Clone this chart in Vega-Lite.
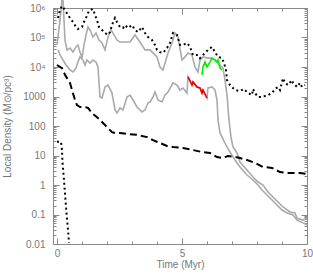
{
  "$schema": "https://vega.github.io/schema/vega-lite/v6.json",
  "width": 254,
  "height": 236,
  "autosize": {"type": "none"},
  "padding": {"left": 53, "top": 8, "right": 6, "bottom": 33},
  "config": {
    "view": {"stroke": null},
    "axis": {
      "domainColor": "#888",
      "tickColor": "#888",
      "labelColor": "#777",
      "titleColor": "#777",
      "labelFont": "Liberation Sans",
      "titleFont": "Liberation Sans",
      "labelFontSize": 10,
      "titleFontSize": 10,
      "titleFontWeight": "normal",
      "grid": false,
      "labelOverlap": false,
      "labelFlush": false,
      "labelBound": false
    }
  },
  "data": {
    "values": [
      {"s":"A","t":0,"v":56000},{"s":"A","t":0.12,"v":390000},{"s":"A","t":0.2,"v":1870000},{"s":"A","t":0.24,"v":1870000},{"s":"A","t":0.32,"v":82000},{"s":"A","t":0.4,"v":38000},{"s":"A","t":0.52,"v":44000},{"s":"A","t":0.64,"v":32000},{"s":"A","t":0.76,"v":48000},{"s":"A","t":0.84,"v":56000},{"s":"A","t":0.92,"v":32000},{"s":"A","t":1.0,"v":20000},{"s":"A","t":1.08,"v":56000},{"s":"A","t":1.16,"v":122000},{"s":"A","t":1.24,"v":227000},{"s":"A","t":1.32,"v":180000},{"s":"A","t":1.44,"v":104000},{"s":"A","t":1.56,"v":142000},{"s":"A","t":1.68,"v":82000},{"s":"A","t":1.8,"v":65000},{"s":"A","t":1.92,"v":38000},{"s":"A","t":2.04,"v":104000},{"s":"A","t":2.16,"v":180000},{"s":"A","t":2.28,"v":122000},{"s":"A","t":2.4,"v":82000},{"s":"A","t":2.52,"v":70000},{"s":"A","t":2.72,"v":70000},{"s":"A","t":2.92,"v":70000},{"s":"A","t":3.12,"v":122000},{"s":"A","t":3.32,"v":70000},{"s":"A","t":3.52,"v":38000},{"s":"A","t":3.72,"v":38000},{"s":"A","t":3.84,"v":30000},{"s":"A","t":4.0,"v":22000},{"s":"A","t":4.12,"v":10000},{"s":"A","t":4.24,"v":7900},{"s":"A","t":4.32,"v":13600},{"s":"A","t":4.44,"v":30000},{"s":"A","t":4.6,"v":65000},{"s":"A","t":4.72,"v":142000},{"s":"A","t":4.84,"v":104000},{"s":"A","t":5.0,"v":17300},{"s":"A","t":5.12,"v":22000},{"s":"A","t":5.24,"v":30000},{"s":"A","t":5.4,"v":25500},{"s":"A","t":5.52,"v":10000},{"s":"A","t":5.64,"v":6800},{"s":"A","t":5.72,"v":17300},{"s":"A","t":5.84,"v":22000},{"s":"A","t":6.04,"v":20000},{"s":"A","t":6.2,"v":20000},{"s":"A","t":6.4,"v":14800},{"s":"A","t":6.52,"v":11700},{"s":"A","t":6.64,"v":9200},{"s":"A","t":6.72,"v":3600},{"s":"A","t":6.8,"v":1120},{"s":"A","t":6.88,"v":160},{"s":"A","t":6.96,"v":42},{"s":"A","t":7.04,"v":19.4},{"s":"A","t":7.2,"v":12.2},{"s":"A","t":7.32,"v":6.0},{"s":"A","t":7.6,"v":3.2},{"s":"A","t":7.84,"v":1.87},{"s":"A","t":8.04,"v":1.26},{"s":"A","t":8.24,"v":1.0},{"s":"A","t":8.44,"v":0.58},{"s":"A","t":8.64,"v":0.39},{"s":"A","t":8.84,"v":0.265},{"s":"A","t":9.04,"v":0.18},{"s":"A","t":9.32,"v":0.122},{"s":"A","t":9.52,"v":0.112},{"s":"A","t":9.6,"v":0.076},{"s":"A","t":9.84,"v":0.065},{"s":"A","t":10.0,"v":0.076},

      {"s":"C","t":0.04,"v":38000},{"s":"C","t":0.12,"v":25500},{"s":"C","t":0.24,"v":17300},{"s":"C","t":0.36,"v":11700},{"s":"C","t":0.52,"v":7900},{"s":"C","t":0.64,"v":6800},{"s":"C","t":0.76,"v":9200},{"s":"C","t":0.84,"v":14800},{"s":"C","t":0.92,"v":22000},{"s":"C","t":1.04,"v":17300},{"s":"C","t":1.12,"v":11700},{"s":"C","t":1.2,"v":17300},{"s":"C","t":1.32,"v":13600},{"s":"C","t":1.44,"v":17300},{"s":"C","t":1.56,"v":14800},{"s":"C","t":1.64,"v":10000},{"s":"C","t":1.72,"v":960},{"s":"C","t":1.8,"v":890},{"s":"C","t":1.92,"v":2100},{"s":"C","t":2.04,"v":2450},{"s":"C","t":2.2,"v":1310},{"s":"C","t":2.32,"v":350},{"s":"C","t":2.4,"v":275},{"s":"C","t":2.52,"v":410},{"s":"C","t":2.64,"v":350},{"s":"C","t":2.8,"v":960},{"s":"C","t":2.92,"v":1120},{"s":"C","t":3.04,"v":760},{"s":"C","t":3.2,"v":440},{"s":"C","t":3.4,"v":300},{"s":"C","t":3.52,"v":350},{"s":"C","t":3.64,"v":600},{"s":"C","t":3.72,"v":650},{"s":"C","t":3.84,"v":960},{"s":"C","t":3.92,"v":1420},{"s":"C","t":4.04,"v":760},{"s":"C","t":4.2,"v":650},{"s":"C","t":4.32,"v":1120},{"s":"C","t":4.44,"v":1420},{"s":"C","t":4.64,"v":2900},{"s":"C","t":4.8,"v":2450},{"s":"C","t":4.92,"v":1660},{"s":"C","t":5.04,"v":1940},{"s":"C","t":5.2,"v":1310},{"s":"C","t":5.24,"v":4600},{"s":"C","t":5.4,"v":2450},{"s":"C","t":5.44,"v":3100},{"s":"C","t":5.6,"v":2100},{"s":"C","t":5.72,"v":1940},{"s":"C","t":5.8,"v":1310},{"s":"C","t":5.84,"v":1660},{"s":"C","t":6.0,"v":890},{"s":"C","t":6.04,"v":1940},{"s":"C","t":6.2,"v":2100},{"s":"C","t":6.32,"v":1660},{"s":"C","t":6.4,"v":760},{"s":"C","t":6.44,"v":160},{"s":"C","t":6.52,"v":58},{"s":"C","t":6.72,"v":26.5},{"s":"C","t":6.92,"v":13.1},{"s":"C","t":7.12,"v":7.0},{"s":"C","t":7.32,"v":4.1},{"s":"C","t":7.6,"v":2.18},{"s":"C","t":7.84,"v":1.48},{"s":"C","t":8.04,"v":1.0},{"s":"C","t":8.2,"v":0.68},{"s":"C","t":8.4,"v":0.46},{"s":"C","t":8.6,"v":0.31},{"s":"C","t":8.8,"v":0.21},{"s":"C","t":9.0,"v":0.142},{"s":"C","t":9.2,"v":0.112},{"s":"C","t":9.44,"v":0.096},{"s":"C","t":9.6,"v":0.065},{"s":"C","t":9.84,"v":0.052},{"s":"C","t":10.0,"v":0.044},

      {"s":"red","t":5.24,"v":4600},{"s":"red","t":5.4,"v":2450},{"s":"red","t":5.44,"v":3100},{"s":"red","t":5.6,"v":2100},{"s":"red","t":5.72,"v":1940},{"s":"red","t":5.8,"v":1310},{"s":"red","t":5.84,"v":1660},{"s":"red","t":6.0,"v":890},

      {"s":"green","t":5.8,"v":5400},{"s":"green","t":5.84,"v":10000},{"s":"green","t":5.92,"v":14800},{"s":"green","t":6.0,"v":10000},{"s":"green","t":6.12,"v":14800},{"s":"green","t":6.2,"v":20000},{"s":"green","t":6.32,"v":17300},{"s":"green","t":6.4,"v":14800},{"s":"green","t":6.44,"v":17300},{"s":"green","t":6.52,"v":9200},{"s":"green","t":6.6,"v":7900},

      {"s":"dot","t":0.04,"v":460000},{"s":"dot","t":0.12,"v":860000},{"s":"dot","t":0.2,"v":1170000},{"s":"dot","t":0.32,"v":860000},{"s":"dot","t":0.44,"v":580000},{"s":"dot","t":0.52,"v":460000},{"s":"dot","t":0.64,"v":335000},{"s":"dot","t":0.76,"v":227000},{"s":"dot","t":0.84,"v":194000},{"s":"dot","t":1.0,"v":227000},{"s":"dot","t":1.08,"v":335000},{"s":"dot","t":1.16,"v":460000},{"s":"dot","t":1.24,"v":680000},{"s":"dot","t":1.32,"v":860000},{"s":"dot","t":1.44,"v":920000},{"s":"dot","t":1.52,"v":580000},{"s":"dot","t":1.6,"v":390000},{"s":"dot","t":1.68,"v":227000},{"s":"dot","t":1.8,"v":180000},{"s":"dot","t":1.92,"v":142000},{"s":"dot","t":2.04,"v":122000},{"s":"dot","t":2.12,"v":153000},{"s":"dot","t":2.2,"v":265000},{"s":"dot","t":2.32,"v":460000},{"s":"dot","t":2.4,"v":335000},{"s":"dot","t":2.52,"v":227000},{"s":"dot","t":2.64,"v":210000},{"s":"dot","t":2.72,"v":265000},{"s":"dot","t":2.84,"v":210000},{"s":"dot","t":3.0,"v":265000},{"s":"dot","t":3.12,"v":180000},{"s":"dot","t":3.24,"v":153000},{"s":"dot","t":3.4,"v":227000},{"s":"dot","t":3.52,"v":142000},{"s":"dot","t":3.64,"v":104000},{"s":"dot","t":3.8,"v":82000},{"s":"dot","t":3.92,"v":56000},{"s":"dot","t":4.0,"v":38000},{"s":"dot","t":4.12,"v":32000},{"s":"dot","t":4.24,"v":30000},{"s":"dot","t":4.4,"v":44000},{"s":"dot","t":4.52,"v":65000},{"s":"dot","t":4.64,"v":142000},{"s":"dot","t":4.8,"v":122000},{"s":"dot","t":4.92,"v":56000},{"s":"dot","t":5.04,"v":56000},{"s":"dot","t":5.2,"v":65000},{"s":"dot","t":5.32,"v":48000},{"s":"dot","t":5.44,"v":25500},{"s":"dot","t":5.64,"v":25500},{"s":"dot","t":5.72,"v":20000},{"s":"dot","t":5.84,"v":25500},{"s":"dot","t":6.04,"v":38000},{"s":"dot","t":6.2,"v":48000},{"s":"dot","t":6.32,"v":32000},{"s":"dot","t":6.44,"v":22000},{"s":"dot","t":6.6,"v":20000},{"s":"dot","t":6.68,"v":13600},{"s":"dot","t":6.76,"v":7900},{"s":"dot","t":6.8,"v":3600},{"s":"dot","t":6.92,"v":2450},{"s":"dot","t":7.12,"v":1660},{"s":"dot","t":7.32,"v":1530},{"s":"dot","t":7.48,"v":1800},{"s":"dot","t":7.64,"v":1310},{"s":"dot","t":7.8,"v":1120},{"s":"dot","t":7.84,"v":1800},{"s":"dot","t":7.92,"v":1310},{"s":"dot","t":8.04,"v":960},{"s":"dot","t":8.2,"v":960},{"s":"dot","t":8.32,"v":1040},{"s":"dot","t":8.44,"v":1120},{"s":"dot","t":8.6,"v":1310},{"s":"dot","t":8.72,"v":1800},{"s":"dot","t":8.84,"v":2100},{"s":"dot","t":8.92,"v":1660},{"s":"dot","t":9.04,"v":4200},{"s":"dot","t":9.12,"v":2900},{"s":"dot","t":9.24,"v":2450},{"s":"dot","t":9.4,"v":3600},{"s":"dot","t":9.44,"v":2900},{"s":"dot","t":9.6,"v":2100},{"s":"dot","t":9.72,"v":2900},{"s":"dot","t":9.8,"v":2100},{"s":"dot","t":9.92,"v":2450},

      {"s":"dash","t":0.0,"v":11700},{"s":"dash","t":0.2,"v":9200},{"s":"dash","t":0.32,"v":5400},{"s":"dash","t":0.52,"v":2900},{"s":"dash","t":0.6,"v":1660},{"s":"dash","t":0.72,"v":760},{"s":"dash","t":0.8,"v":515},{"s":"dash","t":0.92,"v":440},{"s":"dash","t":1.12,"v":440},{"s":"dash","t":1.24,"v":410},{"s":"dash","t":1.4,"v":275},{"s":"dash","t":1.6,"v":200},{"s":"dash","t":1.8,"v":136},{"s":"dash","t":2.0,"v":92},{"s":"dash","t":2.2,"v":62},{"s":"dash","t":2.32,"v":58},{"s":"dash","t":2.52,"v":58},{"s":"dash","t":2.8,"v":54},{"s":"dash","t":3.2,"v":50},{"s":"dash","t":3.6,"v":42},{"s":"dash","t":3.84,"v":33},{"s":"dash","t":4.12,"v":26.5},{"s":"dash","t":4.4,"v":21},{"s":"dash","t":4.64,"v":19.4},{"s":"dash","t":5.04,"v":18},{"s":"dash","t":5.44,"v":15.3},{"s":"dash","t":5.8,"v":13.1},{"s":"dash","t":6.12,"v":12.2},{"s":"dash","t":6.4,"v":8.9},{"s":"dash","t":6.6,"v":8.2},{"s":"dash","t":6.84,"v":9.6},{"s":"dash","t":7.12,"v":8.9},{"s":"dash","t":7.32,"v":8.2},{"s":"dash","t":7.6,"v":7.0},{"s":"dash","t":7.92,"v":5.6},{"s":"dash","t":8.24,"v":4.1},{"s":"dash","t":8.6,"v":3.8},{"s":"dash","t":8.92,"v":2.75},{"s":"dash","t":9.2,"v":2.55},{"s":"dash","t":9.44,"v":2.55},{"s":"dash","t":9.72,"v":2.55},{"s":"dash","t":10.0,"v":2.36},

      {"s":"dot2","t":0.0,"v":29},{"s":"dot2","t":0.16,"v":29},{"s":"dot2","t":0.2,"v":15.3},{"s":"dot2","t":0.22,"v":5.6},{"s":"dot2","t":0.28,"v":1.48},{"s":"dot2","t":0.33,"v":0.39},{"s":"dot2","t":0.38,"v":0.112},{"s":"dot2","t":0.44,"v":0.03},{"s":"dot2","t":0.48,"v":0.0108}
    ]
  },
  "encoding": {
    "x": {"field": "t", "type": "quantitative", "scale": {"domain": [-0.16, 10], "nice": false, "zero": false}},
    "y": {"field": "v", "type": "quantitative", "scale": {"type": "log", "domain": [0.01, 1000000], "nice": false}}
  },
  "resolve": {"axis": {"x": "independent", "y": "independent"}},
  "layer": [
    {
      "transform": [{"filter": "datum.s === 'A'"}],
      "mark": {"type": "line", "color": "#aaaaaa", "strokeWidth": 1.6},
      "encoding": {
        "x": {"field": "t", "type": "quantitative", "scale": {"domain": [-0.16, 10], "nice": false, "zero": false},
          "axis": {"orient": "bottom", "title": "Time (Myr)", "values": [0,1,2,3,4,5,6,7,8,9,10],
            "labelExpr": "datum.value % 5 === 0 ? datum.label : ''",
            "tickSize": {"condition": {"test": "datum.value % 5 === 0", "value": -6}, "value": -3},
            "labelPadding": 10, "titlePadding": -2}},
        "y": {"field": "v", "type": "quantitative", "scale": {"type": "log", "domain": [0.01, 1000000], "nice": false},
          "axis": {"orient": "left", "title": "Local Density (M⊙/pc³)",
            "values": [0.01,0.02,0.03,0.04,0.05,0.06,0.07,0.08,0.09,0.1,0.2,0.3,0.4,0.5,0.6,0.7,0.8,0.9,1,2,3,4,5,6,7,8,9,10,20,30,40,50,60,70,80,90,100,200,300,400,500,600,700,800,900,1000,2000,3000,4000,5000,6000,7000,8000,9000,10000,20000,30000,40000,50000,60000,70000,80000,90000,100000,200000,300000,400000,500000,600000,700000,800000,900000,1000000],
            "labelExpr": "datum.value == 1000000 ? '10⁶' : datum.value == 100000 ? '10⁵' : datum.value == 10000 ? '10⁴' : datum.value == 1000 ? '1000' : datum.value == 100 ? '100' : datum.value == 10 ? '10' : datum.value == 1 ? '1' : datum.value == 0.1 ? '0.1' : datum.value == 0.01 ? '0.01' : ''",
            "tickSize": {"condition": {"test": "indexof([0.01,0.1,1,10,100,1000,10000,100000,1000000], datum.value) >= 0", "value": -6}, "value": -3},
            "labelPadding": 14, "titlePadding": 10}}
      }
    },
    {
      "transform": [{"filter": "datum.s === 'C'"}],
      "mark": {"type": "line", "color": "#aaaaaa", "strokeWidth": 1.6},
      "encoding": {
        "x": {"field": "t", "type": "quantitative", "scale": {"domain": [-0.16, 10], "nice": false, "zero": false},
          "axis": {"orient": "top", "title": null, "labels": false, "values": [0,1,2,3,4,5,6,7,8,9,10],
            "tickSize": {"condition": {"test": "datum.value % 5 === 0", "value": -6}, "value": -3}}},
        "y": {"field": "v", "type": "quantitative", "scale": {"type": "log", "domain": [0.01, 1000000], "nice": false},
          "axis": {"orient": "right", "title": null, "labels": false,
            "values": [0.01,0.02,0.03,0.04,0.05,0.06,0.07,0.08,0.09,0.1,0.2,0.3,0.4,0.5,0.6,0.7,0.8,0.9,1,2,3,4,5,6,7,8,9,10,20,30,40,50,60,70,80,90,100,200,300,400,500,600,700,800,900,1000,2000,3000,4000,5000,6000,7000,8000,9000,10000,20000,30000,40000,50000,60000,70000,80000,90000,100000,200000,300000,400000,500000,600000,700000,800000,900000,1000000],
            "tickSize": {"condition": {"test": "indexof([0.01,0.1,1,10,100,1000,10000,100000,1000000], datum.value) >= 0", "value": -6}, "value": -3}}}
      }
    },
    {
      "transform": [{"filter": "datum.s === 'red'"}],
      "mark": {"type": "line", "color": "#ee0000", "strokeWidth": 1.6},
      "encoding": {"x": {"field": "t", "type": "quantitative", "axis": null}, "y": {"field": "v", "type": "quantitative", "axis": null}}
    },
    {
      "transform": [{"filter": "datum.s === 'green'"}],
      "mark": {"type": "line", "color": "#00ee00", "strokeWidth": 1.6},
      "encoding": {"x": {"field": "t", "type": "quantitative", "axis": null}, "y": {"field": "v", "type": "quantitative", "axis": null}}
    },
    {
      "transform": [{"filter": "datum.s === 'dash'"}],
      "mark": {"type": "line", "color": "#000000", "strokeWidth": 2, "strokeDash": [7, 4]},
      "encoding": {"x": {"field": "t", "type": "quantitative", "axis": null}, "y": {"field": "v", "type": "quantitative", "axis": null}}
    },
    {
      "transform": [{"filter": "datum.s === 'dot'"}],
      "mark": {"type": "line", "color": "#000000", "strokeWidth": 2, "strokeDash": [2, 3]},
      "encoding": {"x": {"field": "t", "type": "quantitative", "axis": null}, "y": {"field": "v", "type": "quantitative", "axis": null}}
    },
    {
      "transform": [{"filter": "datum.s === 'dot2'"}],
      "mark": {"type": "line", "color": "#000000", "strokeWidth": 2, "strokeDash": [2, 3]},
      "encoding": {"x": {"field": "t", "type": "quantitative", "axis": null}, "y": {"field": "v", "type": "quantitative", "axis": null}}
    }
  ]
}
